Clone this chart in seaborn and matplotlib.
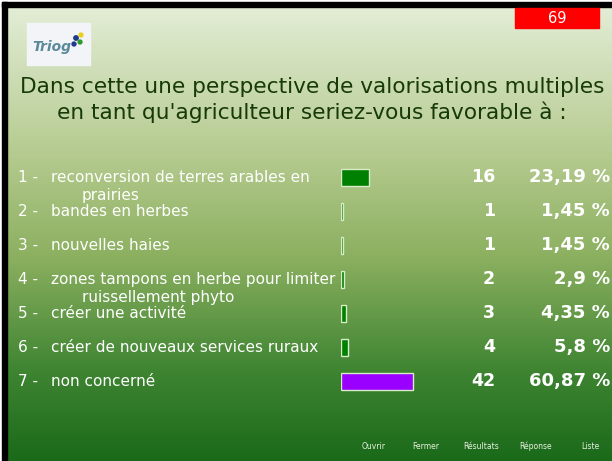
import numpy as np
import matplotlib
matplotlib.use("Agg")
import matplotlib.pyplot as plt
import matplotlib.transforms as mtransforms
from matplotlib.colors import LinearSegmentedColormap
import seaborn as sns
import pandas as pd

# ---- data ----
numbers = ["1 -", "2 -", "3 -", "4 -", "5 -", "6 -", "7 -"]
labels = [
    "reconversion de terres arables en",
    "bandes en herbes",
    "nouvelles haies",
    "zones tampons en herbe pour limiter",
    "créer une activité",
    "créer de nouveaux services ruraux",
    "non concerné",
]
label_wrap = ["prairies", "", "", "ruissellement phyto", "", "", ""]
counts = [16, 1, 1, 2, 3, 4, 42]
percents = [23.19, 1.45, 1.45, 2.9, 4.35, 5.8, 60.87]
bar_colors = ["#008000", "#008000", "#008000", "#008000", "#008000", "#008000", "#9900ff"]
title = "Dans cette une perspective de valorisations multiples\nen tant qu'agriculteur seriez-vous favorable à :"
slide_number = "69"
nav_items = ["Ouvrir", "Fermer", "Résultats", "Réponse", "Liste"]

sns.set_theme(style="white")
plt.rcParams["font.family"] = ["DejaVu Sans"]

W, H = 612, 461
fig = plt.figure(figsize=(W / 100, H / 100), dpi=100)

# background axes in pixel coordinates
bg = fig.add_axes([0, 0, 1, 1])
bg.set_xlim(0, W)
bg.set_ylim(H, 0)
bg.axis("off")

cmap = LinearSegmentedColormap.from_list(
    "slide",
    [(0.0, "#e3edd6"), (0.33, "#b4ca8e"), (0.55, "#8cb060"),
     (0.8, "#3f8532"), (1.0, "#1a6a1a")],
)
grad = np.linspace(0, 1, 256).reshape(-1, 1)
bg.imshow(grad, cmap=cmap, aspect="auto", extent=[7, W, H, 7], zorder=0)

# frame (white outer + black border on top and left)
bg.add_patch(plt.Rectangle((0, 0), W, 2, color="white", zorder=1))
bg.add_patch(plt.Rectangle((0, 0), 2, H, color="white", zorder=1))
bg.add_patch(plt.Rectangle((2, 2), W, 5, color="black", zorder=1))
bg.add_patch(plt.Rectangle((2, 2), 5, H, color="black", zorder=1))

# slide number box
bg.add_patch(plt.Rectangle((515, 8), 84, 20, color="#ff0000", zorder=2))
bg.text(557, 18.5, slide_number, color="white", fontsize=10.5,
        ha="center", va="center", zorder=3)

# logo
bg.add_patch(plt.Rectangle((27, 23), 63, 42, color="#f3f4f8", zorder=2))
bg.text(52, 47, "Triog", color="#5a8a9a", fontsize=10, style="italic",
        fontweight="bold", ha="center", va="center", zorder=3)
bg.scatter([76, 81, 80, 74], [38, 35, 42, 44], s=[10, 8, 8, 8],
           c=["#1f3a8a", "#e8d020", "#2a9a2a", "#1f3a8a"], zorder=3)

# title
bg.text(312, 100, title, color="#173a08", fontsize=15.6, ha="center",
        va="center", linespacing=1.22, zorder=3)

# bar axes: 100% spans 119 px starting at x=341; rows of 34 px from y=160
ax = fig.add_axes([341 / W, (H - 398) / H, 119 / W, 238 / H])
df = pd.DataFrame({"label": labels, "pct": percents})
sns.barplot(data=df, x="pct", y="label", hue="label", palette=bar_colors,
            saturation=1, orient="h", width=0.5, edgecolor="#d8ecc8",
            linewidth=1, legend=False, ax=ax)
ax.set_xlim(0, 100)
ax.set_ylim(6.5, -0.5)
ax.axis("off")
ax.patch.set_alpha(0)

tr = mtransforms.blended_transform_factory(bg.transData, ax.transData)
for i, (num, lab, wrap, c, p) in enumerate(zip(numbers, labels, label_wrap, counts, percents)):
    bg.text(18, i, num, transform=tr, color="white", fontsize=11,
            ha="left", va="center", zorder=4)
    bg.text(51, i, lab, transform=tr, color="white", fontsize=11,
            ha="left", va="center", zorder=4)
    if wrap:
        bg.text(82, i + 0.55, wrap, transform=tr, color="white", fontsize=11,
                ha="left", va="center", zorder=4)
    bg.text(495, i, f"{c}", transform=tr, color="white", fontsize=12.5,
            fontweight="bold", ha="right", va="center", zorder=4)
    pct_txt = f"{p:g}".replace(".", ",") + " %"
    bg.text(610, i, pct_txt, transform=tr, color="white", fontsize=13,
            fontweight="bold", ha="right", va="center", zorder=4)

# navigation
for xpos, item in zip([374, 426, 481, 536, 590], nav_items):
    bg.text(xpos, 446, item, color="#e8f0e0", fontsize=5.5,
            ha="center", va="center", zorder=4)

fig.savefig("out.png", dpi=100)
